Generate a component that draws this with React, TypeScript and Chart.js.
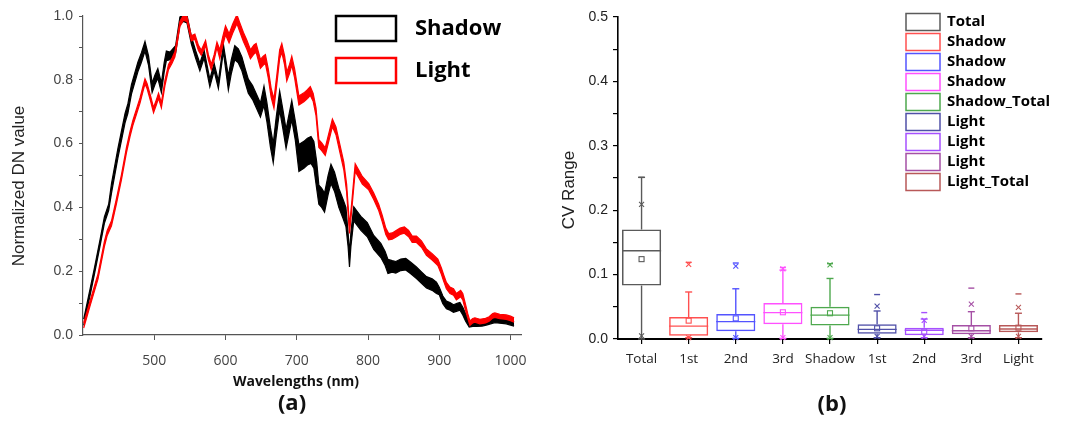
import React, { useEffect, useRef } from 'react';
import { Chart, registerables } from 'chart.js';

Chart.register(...registerables);

// ---------- Panel (a): spectra ----------
const shadowWl = [401,410,416,424,430,436,440,449,459,463,468,477,482,487,492,497,501,505,510,514,517,522,526,530,536,541,546,552,558,564,570,578,584,590,597,604,608,613,618,623,628,632,638,643,649,654,658,663,667,671,676,681,685,689,693,698,703,710,715,720,724,728,731,735,739,744,748,753,759,765,769,772,774,776,780,785,790,799,808,818,824,828,834,839,846,853,860,868,875,882,890,896,900,905,910,915,920,925,929,933,937,942,947,952,960,966,972,978,985,994,1000,1005];
const shadowVal = [0.04,0.135,0.2,0.29,0.36,0.4,0.46,0.57,0.68,0.71,0.77,0.84,0.87,0.905,0.86,0.775,0.8,0.82,0.775,0.84,0.875,0.875,0.885,0.895,0.985,0.995,0.99,0.925,0.88,0.84,0.88,0.79,0.84,0.785,0.9,0.79,0.84,0.885,0.875,0.85,0.81,0.78,0.76,0.735,0.705,0.75,0.7,0.62,0.57,0.65,0.735,0.67,0.615,0.66,0.705,0.64,0.555,0.565,0.575,0.58,0.565,0.5,0.44,0.43,0.415,0.47,0.505,0.48,0.43,0.395,0.37,0.3,0.235,0.3,0.38,0.365,0.35,0.33,0.29,0.265,0.24,0.215,0.215,0.212,0.22,0.222,0.21,0.195,0.18,0.165,0.158,0.148,0.138,0.11,0.094,0.09,0.083,0.087,0.09,0.075,0.055,0.032,0.034,0.034,0.035,0.038,0.042,0.046,0.044,0.042,0.038,0.035];
const shadowBandFrom = [400, 440, 520, 600, 650, 700, 730, 770, 830, 900, 940];
const shadowBandHalf = [0.01, 0.015, 0.012, 0.022, 0.03, 0.042, 0.03, 0.022, 0.018, 0.012, 0.007];

const lightWl = [401,410,421,430,434,440,447,454,461,466,470,475,480,484,487,490,495,499,503,506,510,515,520,525,529,532,536,541,546,552,557,562,566,572,576,580,584,588,592,596,600,605,610,616,620,625,630,635,640,643,649,653,656,660,664,668,672,676,679,683,686,690,693,697,703,710,715,719,723,727,731,735,740,745,750,755,761,766,770,774,777,782,787,792,801,808,815,820,825,829,834,840,845,851,857,862,868,875,882,890,898,903,906,910,915,920,924,930,933,936,940,943,947,950,957,965,970,975,978,985,994,1000,1005];
const lightVal = [0.03,0.1,0.183,0.285,0.32,0.35,0.42,0.495,0.58,0.63,0.665,0.7,0.735,0.77,0.795,0.78,0.74,0.705,0.73,0.75,0.72,0.79,0.84,0.86,0.88,0.92,0.975,0.995,0.99,0.93,0.935,0.9,0.885,0.915,0.87,0.84,0.87,0.91,0.88,0.92,0.955,0.93,0.96,0.99,0.965,0.935,0.91,0.88,0.895,0.9,0.85,0.86,0.865,0.82,0.76,0.725,0.8,0.88,0.9,0.86,0.81,0.835,0.86,0.82,0.735,0.745,0.755,0.765,0.745,0.7,0.6,0.59,0.575,0.62,0.665,0.64,0.58,0.53,0.46,0.33,0.4,0.525,0.505,0.485,0.465,0.435,0.4,0.365,0.325,0.308,0.31,0.318,0.325,0.329,0.318,0.3,0.3,0.285,0.26,0.245,0.228,0.2,0.18,0.155,0.14,0.135,0.12,0.13,0.12,0.094,0.06,0.037,0.045,0.047,0.042,0.045,0.05,0.06,0.062,0.058,0.056,0.052,0.047];
const lightBandFrom = [400, 590, 720, 800, 940];
const lightBandHalf = [0.008, 0.014, 0.012, 0.01, 0.007];

const spectraXTicks = [500, 600, 700, 800, 900, 1000];
const spectraLegend = ['Shadow', 'Light'];
const spectraColors = ['#000000', '#ff0000'];

// ---------- Panel (b): CV box plot ----------
const boxCategories = ['Total', '1st', '2nd', '3rd', 'Shadow', '1st', '2nd', '3rd', 'Light'];
const boxLegend = ['Total', 'Shadow', 'Shadow', 'Shadow', 'Shadow_Total', 'Light', 'Light', 'Light', 'Light_Total'];
const boxColors = ['#5a5a5a', '#ff5050', '#5454ff', '#ff50ff', '#4ea84e', '#5050a8', '#a650ff', '#a550a5', '#b85858'];
const boxQ1 = [0.083, 0.005, 0.012, 0.023, 0.021, 0.008, 0.006, 0.0073, 0.0104];
const boxMedian = [0.137, 0.020, 0.027, 0.041, 0.037, 0.015, 0.0135, 0.0129, 0.0155];
const boxQ3 = [0.170, 0.034, 0.039, 0.056, 0.050, 0.023, 0.0176, 0.0217, 0.0217];
const boxWhiskerLow = [0.0, 0.002, 0.001, 0.001, 0.001, 0.002, 0.002, 0.002, 0.002];
const boxWhiskerHigh = [0.251, 0.073, 0.078, 0.107, 0.094, 0.0435, 0.031, 0.0424, 0.040];
const boxMean = [0.124, 0.0285, 0.032, 0.0415, 0.040, 0.0166, 0.0114, 0.0166, 0.0176];
const boxP1 = [0.005, 0.002, 0.002, 0.002, 0.002, 0.004, 0.004, 0.004, 0.004];
const boxP99 = [0.209, 0.116, 0.113, 0.109, 0.115, 0.051, 0.029, 0.054, 0.049];
const boxMax = [0.251, 0.119, 0.118, 0.111, 0.117, 0.069, 0.041, 0.079, 0.070];

const bandHalf = (wl: number, from: number[], half: number[]) => {
  let h = half[0];
  for (let i = 0; i < from.length; i++) if (wl >= from[i]) h = half[i];
  return h;
};

const bandPoints = (wl: number[], val: number[], from: number[], half: number[], sign: number) =>
  wl.map((w, i) => ({ x: w, y: val[i] + sign * bandHalf(w, from, half) }));

const spectraDecor = {
  id: 'spectraDecor',
  afterDraw(chart: any) {
    const { ctx } = chart;
    ctx.save();
    ctx.fillStyle = '#222';
    ctx.font = '17px "Liberation Sans", Arial, sans-serif';
    ctx.textAlign = 'center';
    ctx.textBaseline = 'middle';
    ctx.save();
    ctx.translate(19, 186);
    ctx.rotate(-Math.PI / 2);
    ctx.fillText('Normalized DN value', 0, 0);
    ctx.restore();

    ctx.fillStyle = '#111';
    ctx.font = 'bold 14px "Open Sans", sans-serif';
    ctx.fillText('Wavelengths (nm)', 296, 382);
    ctx.font = 'bold 22px "Open Sans", sans-serif';
    ctx.fillText('(a)', 292, 404);

    // legend
    spectraLegend.forEach((lab, i) => {
      const top = 16 + i * 42;
      ctx.strokeStyle = spectraColors[i];
      ctx.lineWidth = 2.5;
      ctx.strokeRect(336, top, 60, 25);
      ctx.fillStyle = '#000';
      ctx.textAlign = 'left';
      ctx.font = 'bold 22px "Open Sans", sans-serif';
      ctx.fillText(lab, 415, top + 13);
    });
    ctx.restore();
  },
};

const boxDecor = {
  id: 'boxDecor',
  afterDatasetsDraw(chart: any) {
    const { ctx } = chart;
    const ys = chart.scales.y;
    const meta = chart.getDatasetMeta(0);
    const py = (v: number) => ys.getPixelForValue(v);
    const seg = (x1: number, y1: number, x2: number, y2: number) => {
      ctx.beginPath();
      ctx.moveTo(x1, y1);
      ctx.lineTo(x2, y2);
      ctx.stroke();
    };
    meta.data.forEach((bar: any, i: number) => {
      const cx = bar.x;
      const w = bar.width;
      ctx.save();
      ctx.strokeStyle = boxColors[i];
      ctx.lineWidth = 1.4;
      seg(cx - w / 2, py(boxMedian[i]), cx + w / 2, py(boxMedian[i]));
      seg(cx, py(boxQ3[i]), cx, py(boxWhiskerHigh[i]));
      seg(cx, py(boxQ1[i]), cx, py(boxWhiskerLow[i]));
      seg(cx - 3.5, py(boxWhiskerHigh[i]), cx + 3.5, py(boxWhiskerHigh[i]));
      seg(cx - 3.5, py(boxWhiskerLow[i]), cx + 3.5, py(boxWhiskerLow[i]));
      ctx.lineWidth = 1.1;
      const m = py(boxMean[i]);
      ctx.strokeRect(cx - 2.5, m - 2.5, 5, 5);
      [boxP1[i], boxP99[i]].forEach((v) => {
        const y = py(v);
        seg(cx - 2.5, y - 2.5, cx + 2.5, y + 2.5);
        seg(cx - 2.5, y + 2.5, cx + 2.5, y - 2.5);
      });
      ctx.lineWidth = 1.4;
      seg(cx - 3, py(boxMax[i]), cx + 3, py(boxMax[i]));
      ctx.restore();
    });
  },
  afterDraw(chart: any) {
    const { ctx } = chart;
    ctx.save();
    ctx.fillStyle = '#222';
    ctx.font = '17px "Liberation Sans", Arial, sans-serif';
    ctx.textAlign = 'center';
    ctx.textBaseline = 'middle';
    ctx.save();
    ctx.translate(29, 190);
    ctx.rotate(-Math.PI / 2);
    ctx.fillText('CV Range', 0, 0);
    ctx.restore();

    ctx.fillStyle = '#111';
    ctx.font = 'bold 22px "Open Sans", sans-serif';
    ctx.fillText('(b)', 292, 405);

    boxLegend.forEach((lab, i) => {
      const cy = 22 + i * 20;
      ctx.strokeStyle = boxColors[i];
      ctx.lineWidth = 1.5;
      ctx.strokeRect(366, cy - 8.5, 34, 17);
      ctx.fillStyle = '#000';
      ctx.textAlign = 'left';
      ctx.font = 'bold 15px "Open Sans", sans-serif';
      ctx.fillText(lab, 407, cy);
    });
    ctx.restore();
  },
};

function spectraConfig(): any {
  const mk = (wl: number[], val: number[], from: number[], half: number[], color: string) => [
    {
      data: bandPoints(wl, val, from, half, -1),
      borderColor: color,
      backgroundColor: color,
      borderWidth: 1.2,
      pointRadius: 0,
      fill: false,
      tension: 0,
    },
    {
      data: bandPoints(wl, val, from, half, 1),
      borderColor: color,
      backgroundColor: color,
      borderWidth: 1.2,
      pointRadius: 0,
      fill: '-1',
      tension: 0,
    },
  ];
  return {
    type: 'line',
    data: {
      datasets: [
        ...mk(lightWl, lightVal, lightBandFrom, lightBandHalf, spectraColors[1]),
        ...mk(shadowWl, shadowVal, shadowBandFrom, shadowBandHalf, spectraColors[0]),
      ],
    },
    options: {
      responsive: false,
      animation: false,
      events: [],
      layout: { padding: { top: 16, right: 18, left: 0, bottom: 0 } },
      plugins: { legend: { display: false }, tooltip: { enabled: false } },
      scales: {
        x: {
          type: 'linear',
          min: 400,
          max: 1016,
          afterBuildTicks: (s: any) => {
            s.ticks = spectraXTicks.map((v) => ({ value: v }));
          },
          afterFit: (s: any) => {
            s.height = 90;
          },
          ticks: {
            callback: (v: number) => String(v),
            font: { family: '"Open Sans", sans-serif', size: 14 },
            color: '#444',
            padding: 13,
            maxRotation: 0,
            autoSkip: false,
          },
          grid: { drawOnChartArea: false, drawTicks: true, tickLength: 5, color: '#555', lineWidth: 1 },
          border: { display: true, color: '#555', width: 1.2 },
        },
        y: {
          type: 'linear',
          min: 0,
          max: 1,
          afterFit: (s: any) => {
            s.width = 83;
          },
          ticks: {
            stepSize: 0.1,
            callback: (v: number) => (Math.round(v * 10) % 2 === 0 ? v.toFixed(1) : ''),
            font: { family: '"Liberation Sans", Arial, sans-serif', size: 14 },
            color: '#444',
            padding: 6,
          },
          grid: { drawOnChartArea: false, drawTicks: true, tickLength: 4, color: '#555', lineWidth: 1 },
          border: { display: true, color: '#555', width: 1.2 },
        },
      },
    },
    plugins: [spectraDecor],
  };
}

function boxConfig(): any {
  return {
    type: 'bar',
    data: {
      labels: boxCategories,
      datasets: [
        {
          data: boxCategories.map((_, i) => [boxQ1[i], boxQ3[i]]),
          backgroundColor: 'rgba(0,0,0,0)',
          borderColor: boxColors,
          borderWidth: 1.5,
          borderSkipped: false,
          barPercentage: 0.83,
          categoryPercentage: 1,
        },
      ],
    },
    options: {
      responsive: false,
      animation: false,
      events: [],
      layout: { padding: { top: 17, right: 40, left: 0, bottom: 0 } },
      plugins: { legend: { display: false }, tooltip: { enabled: false } },
      scales: {
        x: {
          afterFit: (s: any) => {
            s.height = 86;
          },
          ticks: {
            font: { family: '"Open Sans", sans-serif', size: 13.5 },
            color: '#222',
            padding: 7,
            maxRotation: 0,
            autoSkip: false,
          },
          grid: { drawOnChartArea: false, offset: false, drawTicks: true, tickLength: 5, color: '#000', lineWidth: 1.2 },
          border: { display: true, color: '#000', width: 2 },
        },
        y: {
          min: 0,
          max: 0.5,
          afterFit: (s: any) => {
            s.width = 78;
          },
          ticks: {
            stepSize: 0.05,
            callback: (v: number) => (Math.round(v * 20) % 2 === 0 ? v.toFixed(1) : ''),
            font: { family: '"Liberation Sans", Arial, sans-serif', size: 14 },
            color: '#222',
            padding: 5,
          },
          grid: { drawOnChartArea: false, drawTicks: true, tickLength: 5, color: '#000', lineWidth: 1.2 },
          border: { display: true, color: '#000', width: 1.6 },
        },
      },
    },
    plugins: [boxDecor],
  };
}

export default function App() {
  const leftRef = useRef<HTMLCanvasElement>(null);
  const rightRef = useRef<HTMLCanvasElement>(null);
  useEffect(() => {
    const c1 = new Chart(leftRef.current as HTMLCanvasElement, spectraConfig());
    const c2 = new Chart(rightRef.current as HTMLCanvasElement, boxConfig());
    return () => {
      c1.destroy();
      c2.destroy();
    };
  }, []);
  return (
    <div style={{ position: 'absolute', left: 0, top: 0, width: 1082, height: 425, background: '#fff', overflow: 'hidden' }}>
      <canvas ref={leftRef} width={540} height={425} style={{ position: 'absolute', left: 0, top: 0 }} />
      <canvas ref={rightRef} width={542} height={425} style={{ position: 'absolute', left: 540, top: 0 }} />
    </div>
  );
}
